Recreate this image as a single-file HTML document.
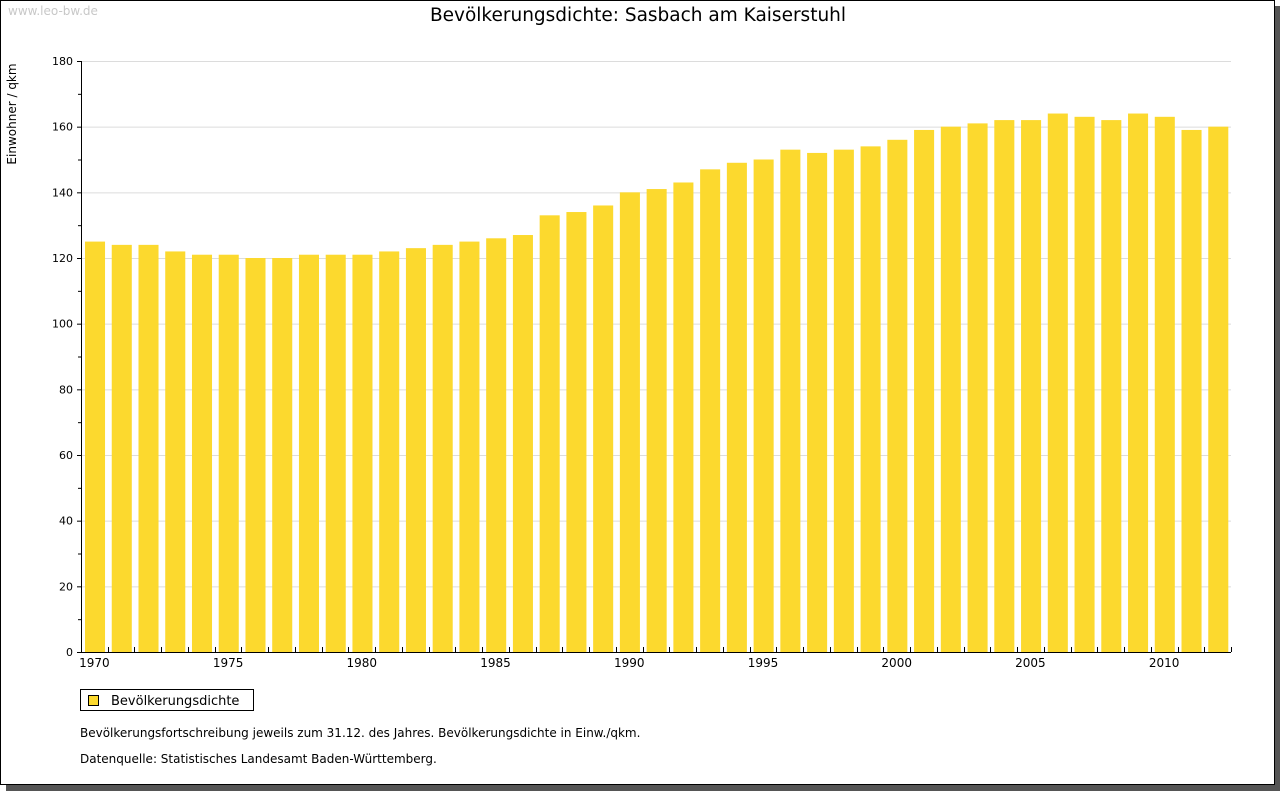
<!DOCTYPE html>
<html><head><meta charset="utf-8"><style>
body{margin:0;background:#fff;width:1280px;height:791px;overflow:hidden;font-family:"DejaVu Sans","Liberation Sans",sans-serif}
</style></head><body>
<svg id="c" width="1280" height="791" xmlns="http://www.w3.org/2000/svg">
<rect x="6" y="6" width="1274" height="785" fill="#555"/>
<rect x="0.5" y="0.5" width="1274" height="784" fill="#fff" stroke="#000"/>
<text x="8" y="15" font-size="12" fill="#c8c8c8">www.leo-bw.de</text>
<text x="638" y="21" font-size="18.5" text-anchor="middle" fill="#000">Bevölkerungsdichte: Sasbach am Kaiserstuhl</text>
<text transform="translate(16,114) rotate(-90)" font-size="12" text-anchor="middle">Einwohner / qkm</text>
<g id="grid"></g><g id="bars"></g><g id="axes"></g>
<rect x="80.5" y="689.5" width="173" height="21" fill="#fff" stroke="#000"/>
<rect x="88.5" y="695.5" width="10" height="10" fill="#fcd92e" stroke="#000"/>
<text x="111" y="705" font-size="13">Bevölkerungsdichte</text>
<text x="80" y="737" font-size="12">Bevölkerungsfortschreibung jeweils zum 31.12. des Jahres. Bevölkerungsdichte in Einw./qkm.</text>
<text x="80" y="763" font-size="12">Datenquelle: Statistisches Landesamt Baden-Württemberg.</text>
</svg>
<script>
const years=[1970,1971,1972,1973,1974,1975,1976,1977,1978,1979,1980,1981,1982,1983,1984,1985,1986,1987,1988,1989,1990,1991,1992,1993,1994,1995,1996,1997,1998,1999,2000,2001,2002,2003,2004,2005,2006,2007,2008,2009,2010,2011,2012];
const values=[125,124,124,122,121,121,120,120,121,121,121,122,123,124,125,126,127,133,134,136,140,141,143,147,149,150,153,152,153,154,156,159,160,161,162,162,164,163,162,164,163,159,160];
const yTicks=[0,20,40,60,80,100,120,140,160,180];
const xLabels=[1970,1975,1980,1985,1990,1995,2000,2005,2010];
const NS="http://www.w3.org/2000/svg";
const L=81,R=1231,T=61,B=652,yMax=180;
const slot=(R-L)/years.length;
const y=v=>B-(v/yMax)*(B-T);
const x=i=>L+i*slot;
function mk(t,a,p){const e=document.createElementNS(NS,t);for(const k in a)e.setAttribute(k,a[k]);p.appendChild(e);return e;}
const g=document.getElementById('grid'),b=document.getElementById('bars'),ax=document.getElementById('axes');
yTicks.forEach(v=>{
 if(v>0){const ln=mk('line',{x1:L,x2:R,y1:y(v)+0.5,y2:y(v)+0.5,stroke:'#dcdcdc'},g);
 
 }
 const t=mk('text',{x:L-8,y:y(v)+4,'font-size':11,'text-anchor':'end'},ax);t.textContent=v;
 
 
 mk('line',{x1:L-4,x2:L,y1:y(v)+0.5,y2:y(v)+0.5,stroke:'#000'},ax);
 if(v<yMax)mk('line',{x1:L-3,x2:L,y1:y(v+10)+0.5,y2:y(v+10)+0.5,stroke:'#000'},ax);
});
values.forEach((v,i)=>{
 const r=mk('rect',{x:x(i)+4,y:y(v),width:slot-6.7,height:B-y(v),fill:'#fcd92e'},b);
 
 
 mk('line',{x1:Math.round(x(i+1))+0.5,x2:Math.round(x(i+1))+0.5,y1:B-5,y2:B,stroke:'#000'},ax);
});
xLabels.forEach(yr=>{
 const i=years.indexOf(yr);
 const t=mk('text',{x:x(i)+slot/2,y:B+15,'font-size':12,'text-anchor':'middle'},ax);t.textContent=yr;
 
 
});
mk('line',{x1:L+0.5,x2:L+0.5,y1:T,y2:B+1,stroke:'#000'},ax);
mk('line',{x1:L,x2:R,y1:B+0.5,y2:B+0.5,stroke:'#000'},ax);
</script>
</body></html>
